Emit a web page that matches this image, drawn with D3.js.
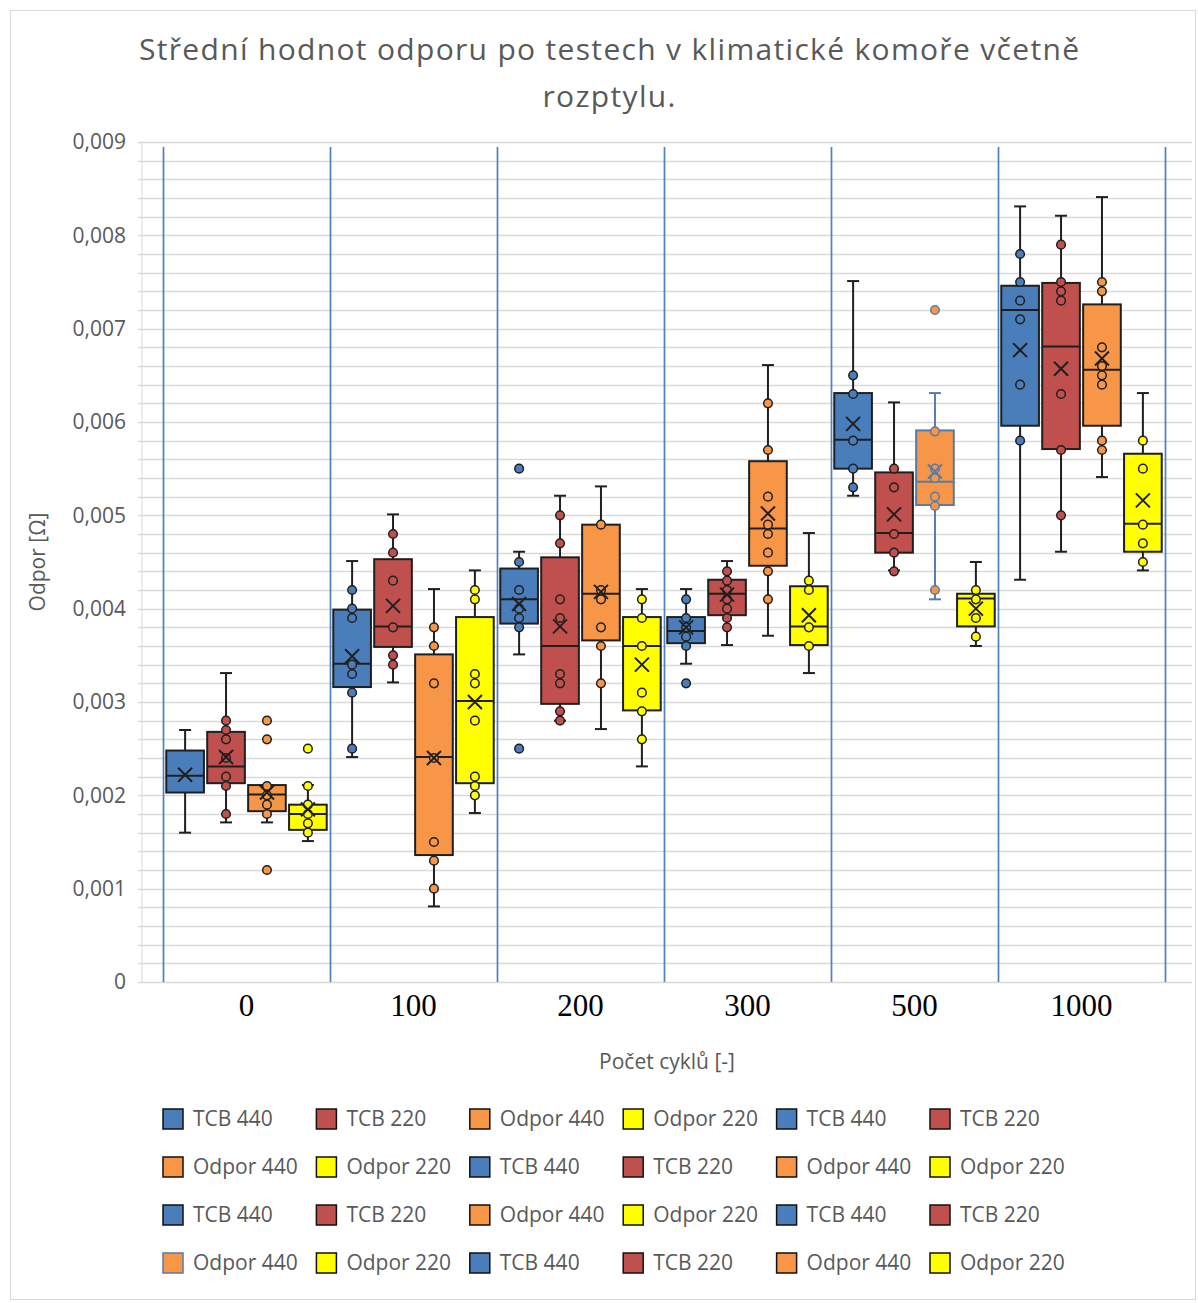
<!DOCTYPE html>
<html>
<head>
<meta charset="utf-8">
<script src="https://cdn.jsdelivr.net/npm/d3@7"></script>
<style>
  body { margin: 0; background: #fff; }
</style>
</head>
<body>
<script>
// categories
var cycles = ["0", "100", "200", "300", "500", "1000"];
var seriesNames = ["TCB 440", "TCB 220", "Odpor 440", "Odpor 220"];
var seriesColors = ["#4a7ebb", "#c0504d", "#f79646", "#ffff00"];

// y tick labels
var yTicks = [0, 0.001, 0.002, 0.003, 0.004, 0.005, 0.006, 0.007, 0.008, 0.009];

// box statistics per cycle count
// [min, q1, median, q3, max, mean]
var tcb440 = [
  [0.0016, 0.00203, 0.00221, 0.00248, 0.0027, 0.00222],
  [0.00241, 0.00316, 0.00341, 0.00399, 0.00451, 0.00349],
  [0.00351, 0.00384, 0.0041, 0.00443, 0.00461, 0.00405],
  [0.00341, 0.00363, 0.00376, 0.00391, 0.00421, 0.0038],
  [0.00521, 0.0055, 0.00581, 0.00631, 0.00751, 0.00598],
  [0.00431, 0.00596, 0.0072, 0.00746, 0.00831, 0.00677]
];
var tcb220 = [
  [0.00171, 0.00213, 0.00231, 0.00268, 0.00331, 0.00241],
  [0.00321, 0.00359, 0.00381, 0.00453, 0.00501, 0.00403],
  [0.0028, 0.00298, 0.0036, 0.00455, 0.00521, 0.00381],
  [0.00361, 0.00393, 0.00416, 0.00431, 0.00451, 0.00415],
  [0.00441, 0.0046, 0.00481, 0.00546, 0.00621, 0.00501],
  [0.00461, 0.00571, 0.00681, 0.00749, 0.00821, 0.00657]
];
var odpor440 = [
  [0.00171, 0.00183, 0.00201, 0.00211, 0.00211, 0.00203],
  [0.00081, 0.00136, 0.00241, 0.00351, 0.00421, 0.0024],
  [0.00271, 0.00366, 0.00416, 0.0049, 0.00531, 0.00418],
  [0.00371, 0.00446, 0.00486, 0.00558, 0.00661, 0.00502],
  [0.0041, 0.00511, 0.00536, 0.00591, 0.00631, 0.00547],
  [0.00541, 0.00596, 0.00656, 0.00726, 0.00841, 0.00668]
];
var odpor220 = [
  [0.00151, 0.00163, 0.0018, 0.0019, 0.00211, 0.00185],
  [0.00181, 0.00213, 0.00301, 0.00391, 0.00441, 0.003],
  [0.00231, 0.00291, 0.0036, 0.00391, 0.00421, 0.0034],
  [0.00331, 0.00361, 0.00381, 0.00424, 0.00481, 0.00393],
  [0.0036, 0.00381, 0.00411, 0.00416, 0.0045, 0.004],
  [0.00441, 0.00461, 0.00491, 0.00566, 0.00631, 0.00516]
];

// individual measured points (inner points and outliers)
var tcb440Pts = [
  [],
  [0.0042, 0.0040, 0.0039, 0.0034, 0.0033, 0.0031, 0.0025],
  [0.0055, 0.0045, 0.0042, 0.0040, 0.0039, 0.0038, 0.0025],
  [0.0041, 0.0039, 0.0038, 0.0037, 0.0036, 0.0032],
  [0.0065, 0.0063, 0.0058, 0.0055, 0.0053],
  [0.0078, 0.0075, 0.0073, 0.0071, 0.0064, 0.0058]
];
var tcb220Pts = [
  [0.0028, 0.0027, 0.0026, 0.0024, 0.0022, 0.0021, 0.0018],
  [0.0048, 0.0046, 0.0043, 0.0038, 0.0035, 0.0034],
  [0.0050, 0.0047, 0.0041, 0.0039, 0.0033, 0.0032, 0.0029, 0.0028],
  [0.0044, 0.0043, 0.0042, 0.0041, 0.0040, 0.0039, 0.0038],
  [0.0055, 0.0053, 0.0048, 0.0046, 0.0044],
  [0.0079, 0.0075, 0.0074, 0.0073, 0.0063, 0.0057, 0.0050]
];
var odpor440Pts = [
  [0.0028, 0.0026, 0.0021, 0.0020, 0.0019, 0.0018, 0.0012],
  [0.0038, 0.0036, 0.0032, 0.0024, 0.0015, 0.0013, 0.0010],
  [0.0049, 0.0042, 0.0041, 0.0038, 0.0036, 0.0032],
  [0.0062, 0.0057, 0.0052, 0.0049, 0.0048, 0.0046, 0.0044, 0.0041],
  [0.0072, 0.0059, 0.0055, 0.0054, 0.0052, 0.0051, 0.0042],
  [0.0075, 0.0074, 0.0068, 0.0066, 0.0065, 0.0064, 0.0058, 0.0057]
];
var odpor220Pts = [
  [0.0025, 0.0021, 0.0019, 0.0018, 0.0017, 0.0016],
  [0.0042, 0.0041, 0.0033, 0.0032, 0.0028, 0.0022, 0.0021, 0.0020],
  [0.0041, 0.0039, 0.0036, 0.0031, 0.0029, 0.0026],
  [0.0043, 0.0042, 0.0038, 0.0036],
  [0.0042, 0.0041, 0.0039, 0.0037],
  [0.0058, 0.0055, 0.0049, 0.0047, 0.0045]
];

var statsBySeries = [tcb440, tcb220, odpor440, odpor220];
var ptsBySeries = [tcb440Pts, tcb220Pts, odpor440Pts, odpor220Pts];

var W = 1198, H = 1303;
var sans = "'Open Sans', sans-serif";
var svg = d3.select("body").append("svg")
    .attr("width", W)
    .attr("height", H);

// outer chart frame
svg.append("rect")
    .attr("x", 10.5).attr("y", 10.5)
    .attr("width", W - 13).attr("height", H - 14)
    .attr("fill", "#fff")
    .attr("stroke", "#d9d9d9");

var plot = {left: 142, right: 1192, top: 142, bottom: 982};

var y = d3.scaleLinear().domain([0, 0.009]).range([plot.bottom, plot.top]);
var x = d3.scaleBand().domain(cycles).range([163, 1165]);
var xs = d3.scaleBand().domain(seriesNames).range([0, x.bandwidth()]).padding(0.08);

var loc = d3.formatLocale({decimal: ",", thousands: " ", grouping: [3], currency: ["", ""]});
var fmt = loc.format(".3f");

// horizontal grid (minor every 0.0002)
var gridVals = d3.range(0, 46).map(function(i) { return i * 0.0002; });
svg.append("g").selectAll("line")
    .data(gridVals)
  .enter().append("line")
    .attr("x1", plot.left - 4).attr("x2", plot.right)
    .attr("y1", function(d) { return Math.round(y(d)) + 0.5; })
    .attr("y2", function(d) { return Math.round(y(d)) + 0.5; })
    .attr("stroke", "#d9d9d9")
    .attr("stroke-width", 1.7);

svg.append("line")
    .attr("x1", plot.left).attr("x2", plot.left)
    .attr("y1", plot.top).attr("y2", plot.bottom)
    .attr("stroke", "#d9d9d9");

// y axis labels
var yAxis = d3.axisLeft(y)
    .tickValues(yTicks)
    .tickSize(0)
    .tickPadding(16)
    .tickFormat(function(d) { return d === 0 ? "0" : fmt(d); });
var yg = svg.append("g")
    .attr("transform", "translate(" + plot.left + ",0)")
    .call(yAxis);
yg.select(".domain").remove();
yg.selectAll("text")
    .style("font-family", sans)
    .style("font-size", "21px")
    .attr("fill", "#595959");

// group separators
var seps = cycles.map(function(c) { return x(c); }).concat([x.range()[1]]);
svg.append("g").selectAll("line")
    .data(seps)
  .enter().append("line")
    .attr("x1", function(d) { return Math.round(d) + 0.5; })
    .attr("x2", function(d) { return Math.round(d) + 0.5; })
    .attr("y1", plot.top + 5).attr("y2", plot.bottom)
    .attr("stroke", "#4f81bd")
    .attr("stroke-width", 1.7);

// x axis labels
var xAxis = d3.axisBottom(x).tickSize(0).tickPadding(12);
var xg = svg.append("g")
    .attr("transform", "translate(0," + plot.bottom + ")")
    .call(xAxis);
xg.select(".domain").remove();
xg.selectAll("text")
    .style("font-family", "'Liberation Serif', 'Times New Roman', serif")
    .style("font-size", "31px")
    .attr("fill", "#000");

// boxes
var boxes = [];
cycles.forEach(function(c, gi) {
  seriesNames.forEach(function(s, si) {
    var st = statsBySeries[si][gi];
    boxes.push({
      cycle: c, series: s, si: si,
      min: st[0], q1: st[1], med: st[2], q3: st[3], max: st[4], mean: st[5],
      pts: ptsBySeries[si][gi],
      stroke: (c === "500" && si === 2) ? "#5a7aa8" : "#1f1f1f"
    });
  });
});

var bw = xs.bandwidth();
var bg = svg.append("g").selectAll("g.box")
    .data(boxes)
  .enter().append("g")
    .attr("class", "box")
    .attr("transform", function(d) { return "translate(" + (x(d.cycle) + xs(d.series)) + ",0)"; });

// whiskers
bg.append("line")
    .attr("x1", bw / 2).attr("x2", bw / 2)
    .attr("y1", function(d) { return y(d.max); })
    .attr("y2", function(d) { return y(d.q3); })
    .attr("stroke", function(d) { return d.stroke; })
    .attr("stroke-width", 2);
bg.append("line")
    .attr("x1", bw / 2).attr("x2", bw / 2)
    .attr("y1", function(d) { return y(d.q1); })
    .attr("y2", function(d) { return y(d.min); })
    .attr("stroke", function(d) { return d.stroke; })
    .attr("stroke-width", 2);
bg.append("line")
    .attr("x1", bw / 2 - 6).attr("x2", bw / 2 + 6)
    .attr("y1", function(d) { return y(d.max); })
    .attr("y2", function(d) { return y(d.max); })
    .attr("stroke", function(d) { return d.stroke; })
    .attr("stroke-width", 2);
bg.append("line")
    .attr("x1", bw / 2 - 6).attr("x2", bw / 2 + 6)
    .attr("y1", function(d) { return y(d.min); })
    .attr("y2", function(d) { return y(d.min); })
    .attr("stroke", function(d) { return d.stroke; })
    .attr("stroke-width", 2);

// box body
bg.append("rect")
    .attr("x", 0)
    .attr("width", bw)
    .attr("y", function(d) { return y(d.q3); })
    .attr("height", function(d) { return y(d.q1) - y(d.q3); })
    .attr("fill", function(d) { return seriesColors[d.si]; })
    .attr("stroke", function(d) { return d.stroke; })
    .attr("stroke-width", 2);

// median
bg.append("line")
    .attr("x1", 0).attr("x2", bw)
    .attr("y1", function(d) { return y(d.med); })
    .attr("y2", function(d) { return y(d.med); })
    .attr("stroke", function(d) { return d.stroke; })
    .attr("stroke-width", 2);

// points
bg.each(function(d) {
  d3.select(this).selectAll("circle")
      .data(d.pts)
    .enter().append("circle")
      .attr("cx", bw / 2)
      .attr("cy", function(v) { return y(v); })
      .attr("r", 4.3)
      .attr("fill", seriesColors[d.si])
      .attr("stroke", d.stroke)
      .attr("stroke-width", 1.5);
});

// mean marker
var m = 7;
bg.append("path")
    .attr("d", function(d) {
      var cy = y(d.mean), cx = bw / 2;
      return "M" + (cx - m) + "," + (cy - m) + "L" + (cx + m) + "," + (cy + m) +
             "M" + (cx - m) + "," + (cy + m) + "L" + (cx + m) + "," + (cy - m);
    })
    .attr("stroke", function(d) { return d.stroke; })
    .attr("stroke-width", 2)
    .attr("fill", "none");

// titles
var title = svg.append("text")
    .attr("text-anchor", "middle")
    .style("font-family", sans)
    .style("font-size", "30px")
    .attr("fill", "#595959");
title.append("tspan").attr("x", 609).attr("y", 60)
    .attr("textLength", 940)
    .attr("lengthAdjust", "spacing")
    .text("Střední hodnot odporu po testech v klimatické komoře včetně");
title.append("tspan").attr("x", 609).attr("y", 107)
    .attr("textLength", 133)
    .attr("lengthAdjust", "spacing")
    .text("rozptylu.");

svg.append("text")
    .attr("transform", "translate(45," + ((plot.top + plot.bottom) / 2) + ") rotate(-90)")
    .attr("text-anchor", "middle")
    .style("font-family", sans)
    .style("font-size", "21px")
    .attr("fill", "#595959")
    .text("Odpor [Ω]");

svg.append("text")
    .attr("x", 667).attr("y", 1069)
    .attr("text-anchor", "middle")
    .style("font-family", sans)
    .style("font-size", "21px")
    .attr("fill", "#595959")
    .text("Počet cyklů [-]");

// legend: one entry per series per cycle group
var legendItems = boxes.map(function(d) { return {name: d.series, si: d.si, stroke: d.stroke === "#1f1f1f" ? "#111" : d.stroke}; });
var lg = svg.append("g").selectAll("g")
    .data(legendItems)
  .enter().append("g")
    .attr("transform", function(d, i) {
      var col = i % 6, row = Math.floor(i / 6);
      return "translate(" + (163 + col * 153.4) + "," + (1109 + row * 48) + ")";
    });
lg.append("rect")
    .attr("width", 20).attr("height", 20)
    .attr("fill", function(d) { return seriesColors[d.si]; })
    .attr("stroke", function(d) { return d.stroke; })
    .attr("stroke-width", 1.5);
lg.append("text")
    .attr("x", 30).attr("y", 17)
    .style("font-family", sans)
    .style("font-size", "21px")
    .attr("fill", "#595959")
    .text(function(d) { return d.name; });
</script>
</body>
</html>
